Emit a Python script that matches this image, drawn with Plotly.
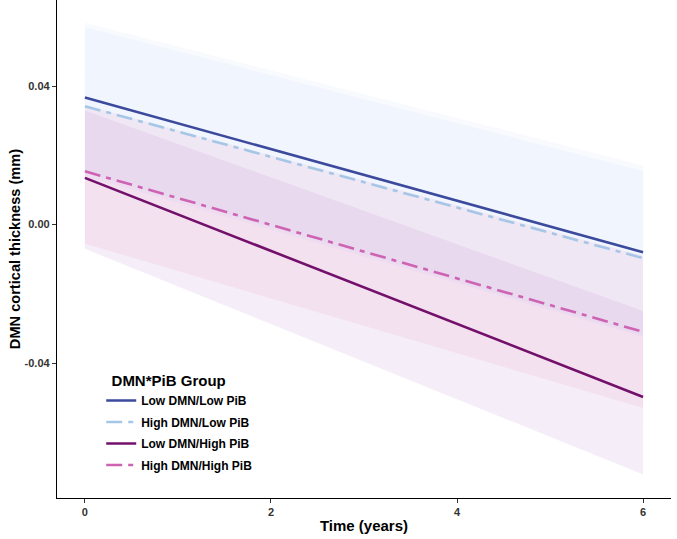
import plotly.graph_objects as go

# ---- data ----
time = [0, 6]
groups = ["Low DMN/Low PiB", "High DMN/Low PiB", "Low DMN/High PiB", "High DMN/High PiB"]

fit_low_low = [0.0367, -0.0080]
fit_high_low = [0.0342, -0.0097]
fit_low_high = [0.0135, -0.0498]
fit_high_high = [0.0154, -0.0310]

lo_low_low = [0.0150, -0.0320]
hi_low_low = [0.0583, 0.0171]
lo_high_low = [0.0140, -0.0325]
hi_high_low = [0.0570, 0.0155]
lo_low_high = [-0.0070, -0.0722]
hi_low_high = [0.0330, -0.0250]
lo_high_high = [-0.0055, -0.0530]
hi_high_high = [0.0345, -0.0090]

x_ticks = [0, 2, 4, 6]
y_ticks = [-0.04, 0.00, 0.04]
y_tick_labels = ["-0.04", "0.00", "0.04"]

fits = [fit_low_low, fit_high_low, fit_low_high, fit_high_high]
lows = [lo_low_low, lo_high_low, lo_low_high, lo_high_high]
highs = [hi_low_low, hi_high_low, hi_low_high, hi_high_high]

line_colors = ["#3C4A9E", "#A6C6E6", "#73106B", "#CF63B3"]
fill_colors = ["rgba(120,150,230,0.05)", "rgba(120,150,230,0.05)",
               "rgba(160,85,190,0.10)", "rgba(238,130,189,0.12)"]
dashes = ["solid", "16px,6px,5px,6px", "solid", "16px,6px,5px,6px"]

FONT = "Liberation Sans, Arial, sans-serif"

fig = go.Figure()

for i, g in enumerate(groups):
    fig.add_trace(go.Scatter(x=time, y=lows[i], mode="lines", line=dict(width=0),
                             showlegend=False, hoverinfo="skip", legendgroup=g))
    fig.add_trace(go.Scatter(x=time, y=highs[i], mode="lines", line=dict(width=0),
                             fill="tonexty", fillcolor=fill_colors[i],
                             showlegend=False, hoverinfo="skip", legendgroup=g))

for i, g in enumerate(groups):
    fig.add_trace(go.Scatter(x=time, y=fits[i], mode="lines", name=g, legendgroup=g,
                             line=dict(color=line_colors[i], width=2.6, dash=dashes[i])))

fig.update_layout(
    width=677, height=539,
    margin=dict(l=57, r=6, t=0, b=41),
    paper_bgcolor="white", plot_bgcolor="white",
    font=dict(family=FONT, color="#000"),
    showlegend=True,
    legend=dict(
        x=0.072, y=0.264, xanchor="left", yanchor="top",
        bgcolor="rgba(0,0,0,0)",
        title=dict(text="\u00a0\u00a0DMN*PiB Group", font=dict(size=15, weight="bold", color="#000")),
        font=dict(size=12, weight="bold", color="#000"),
        traceorder="grouped", tracegroupgap=2.5,
    ),
    xaxis=dict(
        range=[-0.3, 6.3], tickvals=x_ticks, ticktext=[str(v) for v in x_ticks],
        showgrid=False, zeroline=False, showline=True, linecolor="#000", linewidth=1.3,
        ticks="outside", ticklen=4, tickcolor="#333", tickwidth=1,
        tickfont=dict(size=11, color="#333", weight="bold"),
        title=dict(text="Time (years)", font=dict(size=15, weight="bold"), standoff=3),
    ),
    yaxis=dict(
        range=[-0.0790, 0.0649], tickvals=y_ticks, ticktext=y_tick_labels,
        showgrid=False, zeroline=False, showline=True, linecolor="#000", linewidth=1.3,
        ticks="outside", ticklen=4, tickcolor="#333", tickwidth=1,
        tickfont=dict(size=11, color="#333", weight="bold"),
        title=dict(text="DMN cortical thickness (mm)", font=dict(size=14.6, weight="bold"), standoff=0),
    ),
)

fig.write_html("out.html",
               config={"displayModeBar": False},
               post_script="document.body.style.margin='0px';document.body.style.overflow='hidden';")
